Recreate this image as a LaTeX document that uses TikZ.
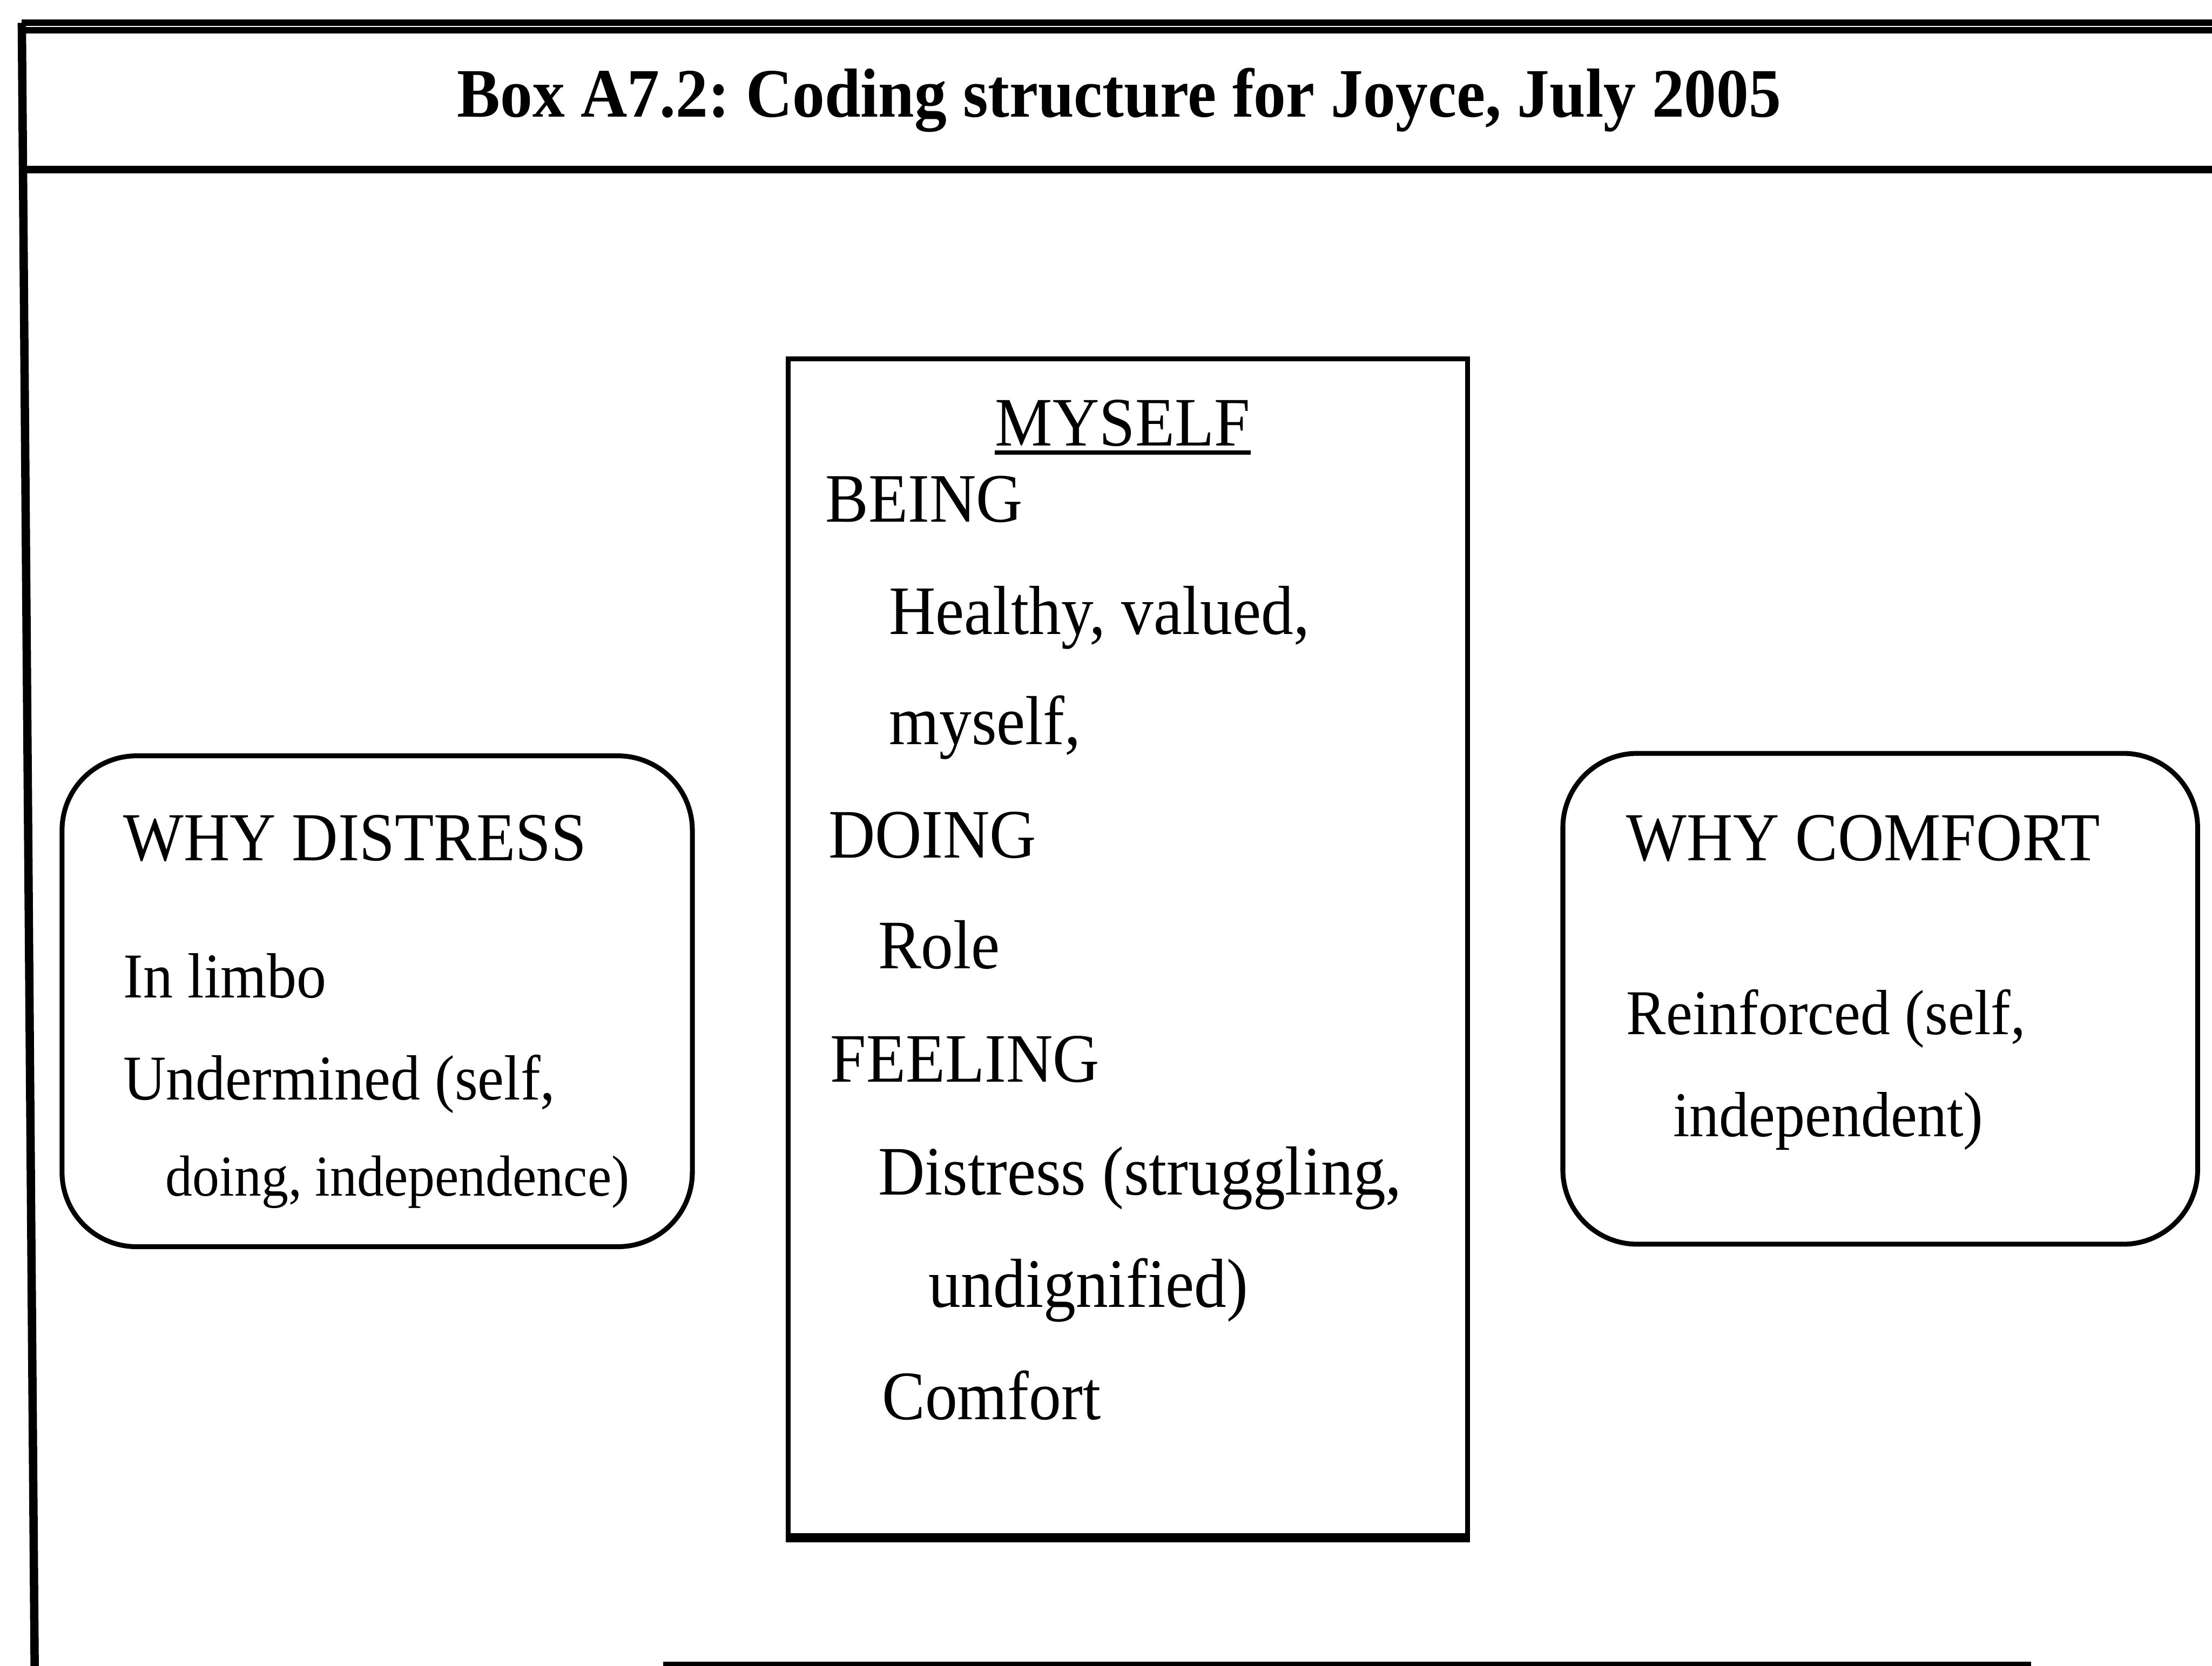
\documentclass[tikz,border=0pt]{standalone}
\usepackage{fontspec}
\setmainfont{Liberation Serif}[FakeStretch=0.93]
\usepackage{tikz}
\usetikzlibrary{positioning}
\frenchspacing

\begin{document}
\begin{tikzpicture}
    \tikzstyle{frame line}=[line width=2.2pt]
    \tikzstyle{code box}=[draw, line width=1.3pt, inner sep=0pt]
    \tikzstyle{why box}=[code box, line width=1.4pt, rounded corners=0.75cm, minimum width=6.35cm, minimum height=4.945cm]
    \tikzstyle{entry}=[anchor=base west, inner sep=0pt, font=\fontsize{19.9}{24}\selectfont]
    \tikzstyle{side head}=[entry, font=\fontsize{19.7}{24}\selectfont]
    \tikzstyle{side entry}=[entry, font=\fontsize{18.3}{22}\selectfont]

    \useasboundingbox (0,0) rectangle (22.285,-16.78);

    % Outer frame and title bar
    \coordinate (F-tl) at (0.22,-0.23);
    \coordinate (F-tr) at (22.4,-0.23);
    \coordinate (F-bl) at (0.35,-16.9);
    \draw[frame line, line width=1.85pt] (F-tl) -- (F-tr);
    \draw[frame line, line width=1.85pt] ([yshift=-0.077cm]F-tl) -- ([yshift=-0.077cm]F-tr);
    \draw[frame line, line width=2.4pt] (F-tl) -- (F-bl);
    \coordinate (T-l) at (0.24,-1.71);
    \coordinate (T-r) at (22.4,-1.71);
    \draw[frame line] (T-l) -- (T-r);
    \node[anchor=base, inner sep=0pt, font=\bfseries\fontsize{19.9}{24}\selectfont] (title) at (11.275,-1.18)
        {Box A7.2: Coding structure for Joyce, July 2005};

    % Central box
    \node[code box, minimum width=6.845cm, minimum height=11.855cm] (myself) at (11.3625,-9.5425) {};
    \draw[line width=2.6pt] (myself.south west) -- (myself.south east);
    \node[entry, anchor=base] (myself-hd) at (11.31,-4.49) {MYSELF};
    \draw[line width=1.2pt] ([yshift=-0.07cm]myself-hd.base west) -- ([yshift=-0.07cm]myself-hd.base east);
    \foreach \x/\y/\txt [count=\i] in {8.31/-5.26/BEING, {8.95/-6.39/Healthy, valued,}, {8.95/-7.50/myself,},
        8.34/-8.64/DOING, 8.84/-9.76/Role, 8.36/-10.90/FEELING, {8.84/-12.04/Distress (struggling,},
        9.35/-13.17/undignified), 8.88/-14.30/Comfort}
        \node[entry] (myself-\i) at (\x,\y) {\txt};

    % Why distress
    \node[why box] (distress) at (3.80,-10.0875) {};
    \node[side head] (distress-hd) at (1.236,-8.67) {WHY DISTRESS};
    \node[side entry] (distress-1) at (1.236,-10.05) {In limbo};
    \node[side entry] (distress-2) at (1.236,-11.08) {Undermined (self,};
    \node[side entry, font=\fontsize{16.6}{20}\selectfont] (distress-3) at (1.663,-12.05) {doing, independence)};

    % Why comfort
    \node[why box, minimum width=6.395cm] (comfort) at (18.9425,-10.0625) {};
    \node[side head] (comfort-hd) at (16.38,-8.67) {WHY COMFORT};
    \node[side entry] (comfort-1) at (16.38,-10.42) {Reinforced (self,};
    \node[side entry] (comfort-2) at (16.85,-11.45) {independent)};

    % Rule cut off at the bottom edge
    \coordinate (B-l) at (6.68,-16.78);
    \coordinate (B-r) at (20.46,-16.78);
    \draw[frame line] (B-l) -- (B-r);
\end{tikzpicture}
\end{document}
